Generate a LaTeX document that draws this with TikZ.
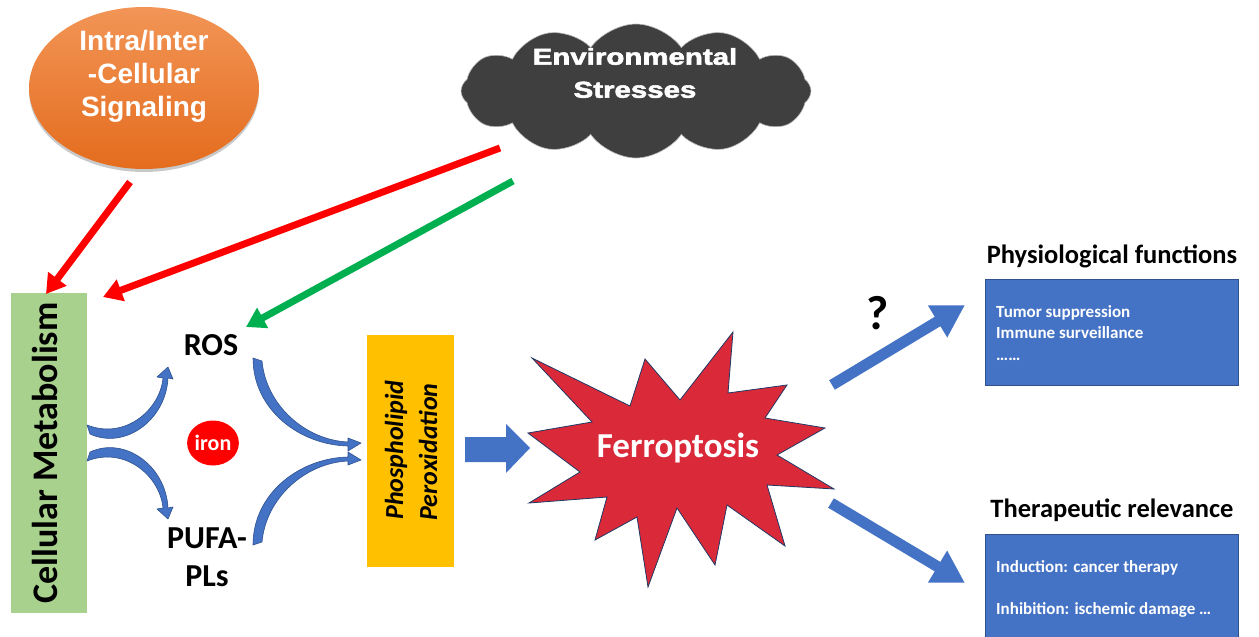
\documentclass[tikz,border=0pt]{standalone}
\usepackage{fontspec}
\setmainfont{Carlito}
\newfontfamily\arialb{Liberation Sans}
\newfontfamily\arialheavy{Liberation Sans}[BoldFeatures={FakeBold=2.2}]
\usetikzlibrary{shapes.geometric,shapes.symbols,arrows.meta,shadows}
\definecolor{metgreen}{HTML}{A9D18E}
\definecolor{phosyel}{HTML}{FFC000}
\definecolor{bluefill}{HTML}{4472C4}
\definecolor{blueline}{HTML}{2F528F}
\definecolor{starred}{HTML}{DA2A39}
\definecolor{starline}{HTML}{203864}
\definecolor{cloudgray}{HTML}{3F3F3F}
\definecolor{orgtop}{HTML}{F29556}
\definecolor{orgbot}{HTML}{E46C1E}
\definecolor{arrred}{HTML}{FF0000}
\definecolor{arrgreen}{HTML}{00B050}
\tikzset{
  redarr/.style={draw=arrred, line width=7pt, -{Triangle[width=22pt,length=19pt]}},
  greenarr/.style={draw=arrgreen, line width=7pt, -{Triangle[width=22pt,length=19pt]}},
  bluearr/.style={draw=bluefill, line width=11pt, -{Triangle[width=35pt,length=32pt]}},
  curvarr/.style={fill=bluefill, draw=blueline, line width=0.6pt, line join=round},
  boxtxt/.style={text=white, font=\fontsize{17pt}{20pt}\selectfont\bfseries, anchor=base west, inner sep=0pt},
  titletxt/.style={font=\fontsize{26.5pt}{30pt}\selectfont\bfseries, inner sep=0pt, anchor=base},
  lbl/.style={font=\fontsize{32pt}{38pt}\selectfont\bfseries, inner sep=0pt},
  bluebox/.style={fill=bluefill, draw=blueline, line width=0.8pt},
}
\begin{document}
\begin{tikzpicture}[x=1pt,y=-1pt]
\useasboundingbox (0,0) rectangle (1259,637);
\fill[white] (0,0) rectangle (1259,637);

% signaling ellipse
\node[ellipse, minimum width=230pt, minimum height=162pt, top color=orgtop, bottom color=orgbot,
  drop shadow={shadow xshift=0pt, shadow yshift=-3pt, fill=gray!70, opacity=0.6}] (sig) at (144,88) {};
\node[align=center, text=white, inner sep=0pt, font=\fontsize{28pt}{33pt}\selectfont\arialb\bfseries] (sigtext) at (144,76) {Intra/Inter\\-Cellular\\Signaling};

% cloud
\node[cloud, cloud puffs=12, cloud puff arc=110, aspect=2.6, minimum width=350pt, minimum height=134pt,
  fill=cloudgray, draw=gray!55, line width=0.6pt] (env) at (636,91) {};
\node[align=center, text=white, inner sep=0pt, font=\fontsize{23pt}{33pt}\selectfont\arialheavy\bfseries] (envtext) at (635,73) {\scalebox{1.28}[1]{Environmental}\\\scalebox{1.28}[1]{Stresses}};

% cellular metabolism
\node[fill=metgreen, minimum width=76pt, minimum height=320pt, inner sep=0pt] (met) at (49,453) {};
\node[rotate=90, font=\fontsize{36pt}{40pt}\selectfont\bfseries, inner sep=0pt] (mettext) at (45,453) {Cellular Metabolism};

% ROS, PUFA, iron
\node[lbl] (ros) at (211,345) {ROS};
\node[lbl] (pufa) at (207,538) {PUFA-};
\node[lbl] (pls) at (207,576) {PLs};
\node[ellipse, fill=arrred, minimum width=49pt, minimum height=45pt, inner sep=0pt, text=white,
  font=\fontsize{22pt}{26pt}\selectfont\bfseries] (iron) at (213,443) {iron};

% phospholipid peroxidation
\node[fill=phosyel, minimum width=87pt, minimum height=232pt, inner sep=0pt] (phos) at (410.5,451) {};
\node[rotate=90, inner sep=0pt, font=\fontsize{26pt}{30pt}\selectfont\bfseries\itshape] (phos1) at (396,450) {Phospholipid};
\node[rotate=90, inner sep=0pt, font=\fontsize{26pt}{30pt}\selectfont\bfseries\itshape] (phos2) at (428,452) {Peroxidation};

% curved blue arrows
\filldraw[curvarr] (90,434) .. controls (125,450) and (166,420) .. (168,378) -- (173,379) -- (168,367) -- (157,377) -- (163,378) .. controls (160,410) and (125,440) .. (87,425) -- cycle;
\filldraw[curvarr] (90,452) .. controls (125,436) and (166,466) .. (168,508) -- (173,507) -- (168,519) -- (157,509) -- (163,508) .. controls (160,476) and (125,446) .. (87,461) -- cycle;
\filldraw[curvarr] (253,358) .. controls (253,410) and (300,445) .. (348,446) -- (348,451) -- (361,443) -- (348,438) -- (348,442) .. controls (305,440) and (266,405) .. (262,361) -- cycle;
\filldraw[curvarr] (253,545) .. controls (253,493) and (300,458) .. (348,457) -- (348,452) -- (361,460) -- (348,465) -- (348,461) .. controls (305,463) and (266,498) .. (262,542) -- cycle;

% block arrow
\fill[bluefill] (465,437) -- (506,437) -- (506,424) -- (530,448) -- (506,473) -- (506,462) -- (465,462) -- cycle;

% star
\filldraw[fill=starred, draw=starline, line width=0.8pt, line join=miter]
 (532,358) -- (630,406) -- (645,359) -- (680,400) -- (733,332) -- (728,393) -- (787,385) -- (765,418)
 -- (825,428) -- (777,455) -- (834,489) -- (767,485) -- (785,546) -- (727,505) -- (715,565) -- (677,508)
 -- (648,587) -- (637,517) -- (595,540) -- (607,497) -- (529,503) -- (580,472) -- (528,433) -- (592,422) -- cycle;
\node[text=white, inner sep=0pt, font=\fontsize{35pt}{40pt}\selectfont\bfseries] (ferro) at (678,448) {Ferroptosis};

% red and green arrows
\coordinate (r1s) at (130,182);
\coordinate (r1e) at (46,294);
\coordinate (r2s) at (500,148);
\coordinate (r2e) at (103,297);
\coordinate (g1s) at (513,181);
\coordinate (g1e) at (246,327);
\draw[redarr] (r1s) -- (r1e);
\draw[redarr] (r2s) -- (r2e);
\draw[greenarr] (g1s) -- (g1e);

% right side
\node[titletxt] (phystitle) at (1112,263) {Physiological functions};
\node[titletxt] (thertitle) at (1112,517) {Therapeutic relevance};
\draw[bluebox] (985,279) rectangle (1238,385);
\node[inner sep=0pt] (physbox) at (1111.5,332) {};
\draw[bluebox] (985,534) rectangle (1238,640);
\node[inner sep=0pt] (therbox) at (1111.5,585) {};
\node[boxtxt] (p1) at (996,317) {Tumor suppression};
\node[boxtxt] (p2) at (996,338) {Immune surveillance};
\node[boxtxt] (p3) at (996,360) {……};
\node[boxtxt] (t1) at (996,572) {Induction: cancer therapy};
\node[boxtxt] (t2) at (996,614) {Inhibition: ischemic damage …};

\coordinate (b1s) at (832,385);
\coordinate (b1e) at (965,305);
\coordinate (b2s) at (831,503);
\coordinate (b2e) at (965,583);
\draw[bluearr] (b1s) -- (b1e);
\draw[bluearr] (b2s) -- (b2e);
\node[inner sep=0pt, font=\fontsize{48pt}{52pt}\selectfont\bfseries] (qm) at (878,313) {?};
\end{tikzpicture}
\end{document}
